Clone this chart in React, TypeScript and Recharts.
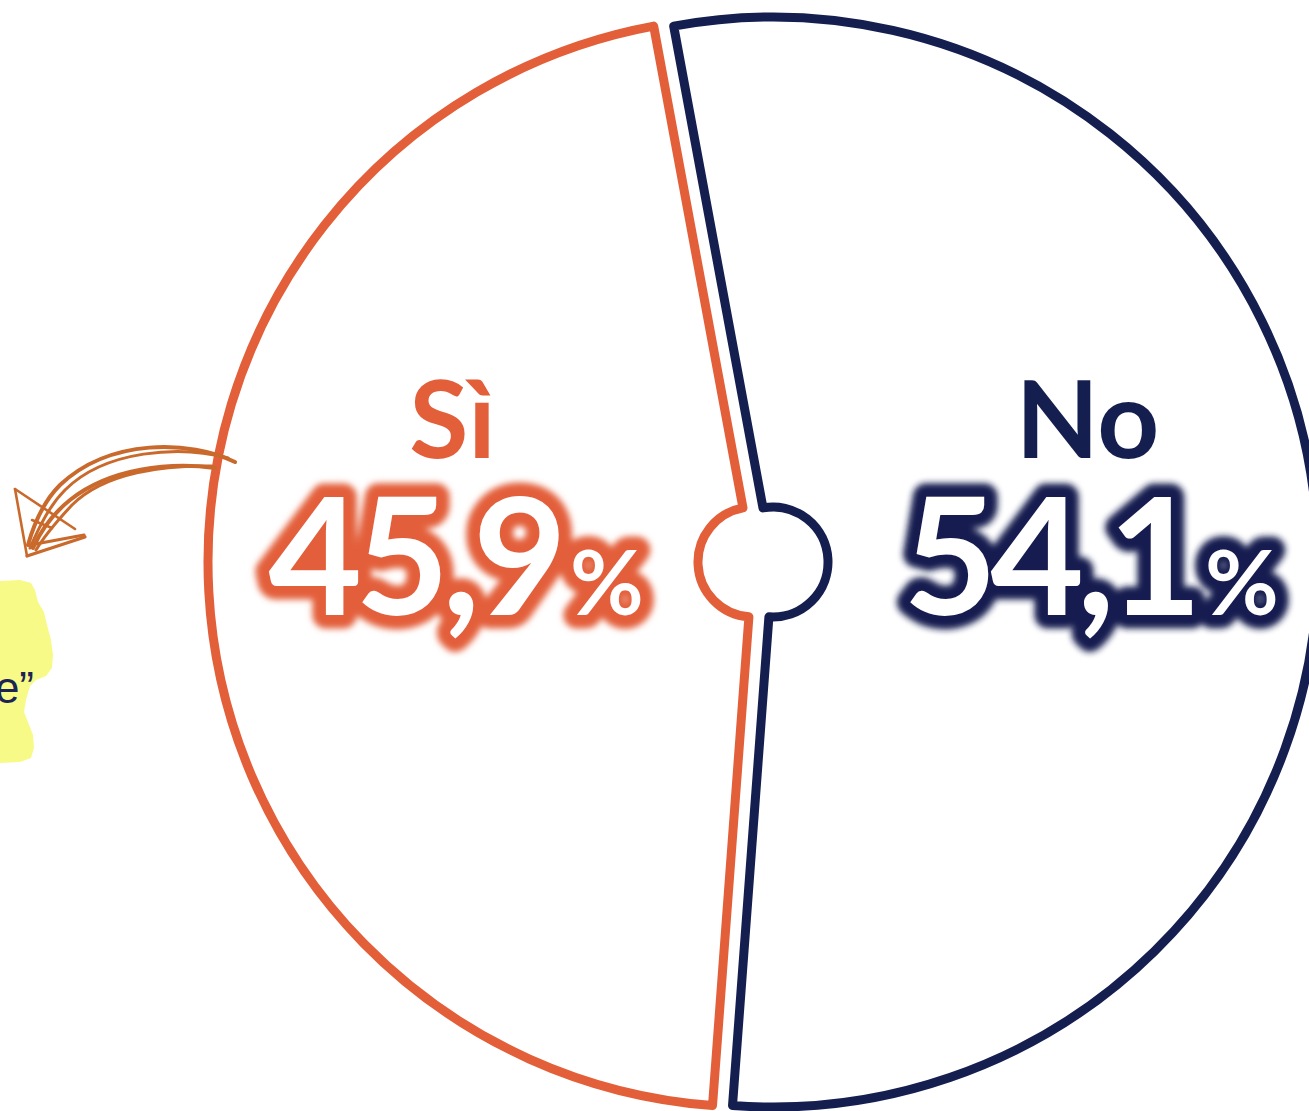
import React from 'react';
import { PieChart, Pie, Cell } from 'recharts';

const categories = ['Sì', 'No'];
const values = [45.9, 54.1];
const valueLabels = ['45,9', '54,1'];
const colors = ['#E35F3A', '#151F4F'];

const data = categories.map((name, i) => ({ name, value: values[i] }));

const W = 1309;
const H = 1111;
const CX = 763;
const CY = 562;
const EXPLODE = 10;
const OUTER = 545;
const INNER = 55;
const START = 100.5;
const FONT = 'Lato, "Open Sans", sans-serif';

const makeLabel = (own: number) => (props: any) => {
  const { cx, cy, midAngle, outerRadius, index } = props;
  if (index !== own) return null;
  const RAD = Math.PI / 180;
  const x = cx + outerRadius * 0.565 * Math.cos(-midAngle * RAD) + 7;
  const color = colors[index];
  const fid = `glow${index}`;
  return (
    <g key={`lbl-${index}`}>
      <defs>
        <filter id={fid} x="-20%" y="-40%" width="140%" height="180%">
          <feGaussianBlur stdDeviation="3.2" />
        </filter>
      </defs>
      <text
        x={x}
        y={cy - 104}
        textAnchor="middle"
        fill={color}
        fontSize={108}
        fontWeight={700}
        fontFamily={FONT}
      >
        {categories[index]}
      </text>
      <text
        x={x}
        y={cy + 53}
        textAnchor="middle"
        fill={color}
        stroke={color}
        strokeWidth={27}
        strokeLinejoin="round"
        fontSize={162}
        fontWeight={700}
        fontFamily={FONT}
        letterSpacing={-7}
        filter={`url(#${fid})`}
      >
        {valueLabels[index]}
        <tspan fontSize={90} dx={10}>%</tspan>
      </text>
      <text
        x={x}
        y={cy + 53}
        textAnchor="middle"
        fill="#ffffff"
        fontSize={162}
        fontWeight={700}
        fontFamily={FONT}
        letterSpacing={-7}
      >
        {valueLabels[index]}
        <tspan fontSize={90} dx={10}>%</tspan>
      </text>
    </g>
  );
};

const Annotation = () => (
  <svg
    width={W}
    height={H}
    style={{ position: 'absolute', left: 0, top: 0, pointerEvents: 'none' }}
  >
    <path
      d="M0,581 L20,580 L31,583 L35,590 L38,602 L44,612 L47,625 L51,640 L53,655 L52,668 L46,676 L36,680 L30,686 L26,700 L24,712 L28,722 L33,735 L34,748 L31,758 L20,762 L0,763 Z"
      fill="#F8FA88"
    />
    <text x={34} y={703} textAnchor="end" fill="#1B2455" fontSize={44} fontFamily='"Liberation Sans", Arial, sans-serif'>
      e”
    </text>
    <g fill="none" stroke="#C9692C" strokeLinecap="round">
      <path d="M235,462 C190,440 110,438 60,485 C45,500 35,520 28,545" strokeWidth={4} />
      <path d="M228,458 C180,445 105,450 65,490 C50,505 40,525 30,548" strokeWidth={3} />
      <path d="M215,468 C170,462 110,468 70,500 C55,512 42,528 33,548" strokeWidth={4} />
      <path d="M212,466 C165,465 105,472 72,505 C58,520 45,535 36,550" strokeWidth={3} />
      <path d="M15,489 L75,529" strokeWidth={2.6} />
      <path d="M15,489 L27,556" strokeWidth={2.6} />
      <path d="M27,556 L85,537" strokeWidth={3.2} />
      <path d="M30,545 L84,535" strokeWidth={3.2} />
      <path d="M32,520 L52,528" strokeWidth={2.6} />
    </g>
  </svg>
);

export default function App() {
  return (
    <div
      style={{
        position: 'absolute',
        left: 0,
        top: 0,
        width: W,
        height: H,
        overflow: 'hidden',
        background: '#ffffff',
      }}
    >
      <PieChart width={W} height={H} margin={{ top: 0, right: 0, bottom: 0, left: 0 }}>
        {[0, 1].map((own) => (
          <Pie
            key={`pie-${own}`}
            data={data}
            dataKey="value"
            nameKey="name"
            cx={CX + (own === 0 ? -EXPLODE : EXPLODE)}
            cy={CY}
            innerRadius={INNER}
            outerRadius={OUTER}
            startAngle={START}
            endAngle={START + 360}
            isAnimationActive={false}
            labelLine={false}
            label={makeLabel(own)}
            strokeLinejoin="round"
          >
            {data.map((d, i) => (
              <Cell
                key={`c-${own}-${i}`}
                fill={i === own ? '#ffffff' : 'none'}
                stroke={i === own ? colors[i] : 'none'}
                strokeWidth={i === own ? 9 : 0}
              />
            ))}
          </Pie>
        ))}
      </PieChart>
      <Annotation />
    </div>
  );
}
